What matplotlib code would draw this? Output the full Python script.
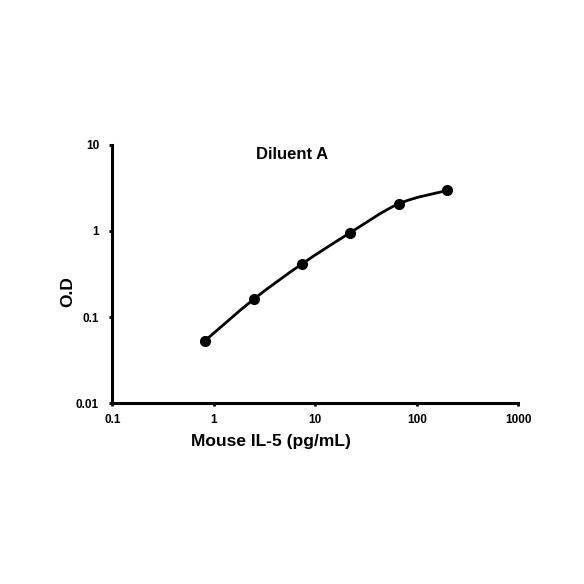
import numpy as np
import matplotlib
matplotlib.use("Agg")
import matplotlib.pyplot as plt
from matplotlib.path import Path
from matplotlib.patches import PathPatch

# Data
conc = [0.823, 2.47, 7.41, 22.2, 66.7, 200.0]
od = [0.0535, 0.161, 0.415, 0.957, 2.07, 2.95]
x_ticks = [0.1, 1, 10, 100, 1000]
x_tick_labels = ["0.1", "1", "10", "100", "1000"]
y_ticks = [0.01, 0.1, 1, 10]
y_tick_labels = ["0.01", "0.1", "1", "10"]
title = "Diluent A"
xlabel = "Mouse IL-5 (pg/mL)"
ylabel = "O.D"

plt.rcParams['font.family'] = ['Liberation Sans', 'DejaVu Sans']
plt.rcParams['font.weight'] = 'bold'

fig = plt.figure(figsize=(5.84, 5.84), dpi=100)
ax = fig.add_axes([0.1923, 0.3094, 0.6952, 0.4428])
ax.set_xscale('log')
ax.set_yscale('log')
ax.set_xlim(0.1, 1000)
ax.set_ylim(0.01, 10)

# smooth curve (Catmull-Rom style Bezier in log space, like a spreadsheet smoothed line)
lx = np.log10(conc)
ly = np.log10(od)
n = len(lx)
verts = [(conc[0], od[0])]
codes = [Path.MOVETO]
t = 1.0 / 6.0
for i in range(n - 1):
    p0 = (lx[max(i - 1, 0)], ly[max(i - 1, 0)])
    p1 = (lx[i], ly[i])
    p2 = (lx[i + 1], ly[i + 1])
    p3 = (lx[min(i + 2, n - 1)], ly[min(i + 2, n - 1)])
    c1 = (p1[0] + (p2[0] - p0[0]) * t, p1[1] + (p2[1] - p0[1]) * t)
    c2 = (p2[0] - (p3[0] - p1[0]) * t, p2[1] - (p3[1] - p1[1]) * t)
    for c in (c1, c2, p2):
        verts.append((10 ** c[0], 10 ** c[1]))
    codes += [Path.CURVE4] * 3
patch = PathPatch(Path(verts, codes), facecolor='none', edgecolor='black',
                  linewidth=2.0, transform=ax.transData, zorder=2)
ax.add_patch(patch)
ax.plot(conc, od, linestyle='none', marker='o', markersize=7,
        color='black', zorder=3)

for side in ('top', 'right'):
    ax.spines[side].set_visible(False)
for side in ('left', 'bottom'):
    ax.spines[side].set_linewidth(2.2)

ax.minorticks_off()
ax.set_xticks(x_ticks)
ax.set_xticklabels(x_tick_labels)
ax.set_yticks(y_ticks)
ax.set_yticklabels(y_tick_labels)
ax.tick_params(axis='both', which='minor', length=0)
ax.tick_params(axis='x', which='major', length=2.5, width=2, labelsize=8.5, pad=5)
ax.tick_params(axis='y', which='major', length=2.5, width=2, labelsize=8.5, pad=7)
for lab in ax.get_xticklabels() + ax.get_yticklabels():
    lab.set_fontweight('bold')

fig.text(292 / 584, 1 - 154 / 584, title, ha='center', va='center',
         fontsize=12, fontweight='bold')
fig.text(271 / 584, 1 - 441.7 / 584, xlabel, ha='center', va='center',
         fontsize=12.5, fontweight='bold')
fig.text(68 / 584, 1 - 291.7 / 584, ylabel, ha='center', va='center',
         fontsize=12.5, fontweight='bold', rotation=90)

fig.savefig('out.png', dpi=100, facecolor='white')
